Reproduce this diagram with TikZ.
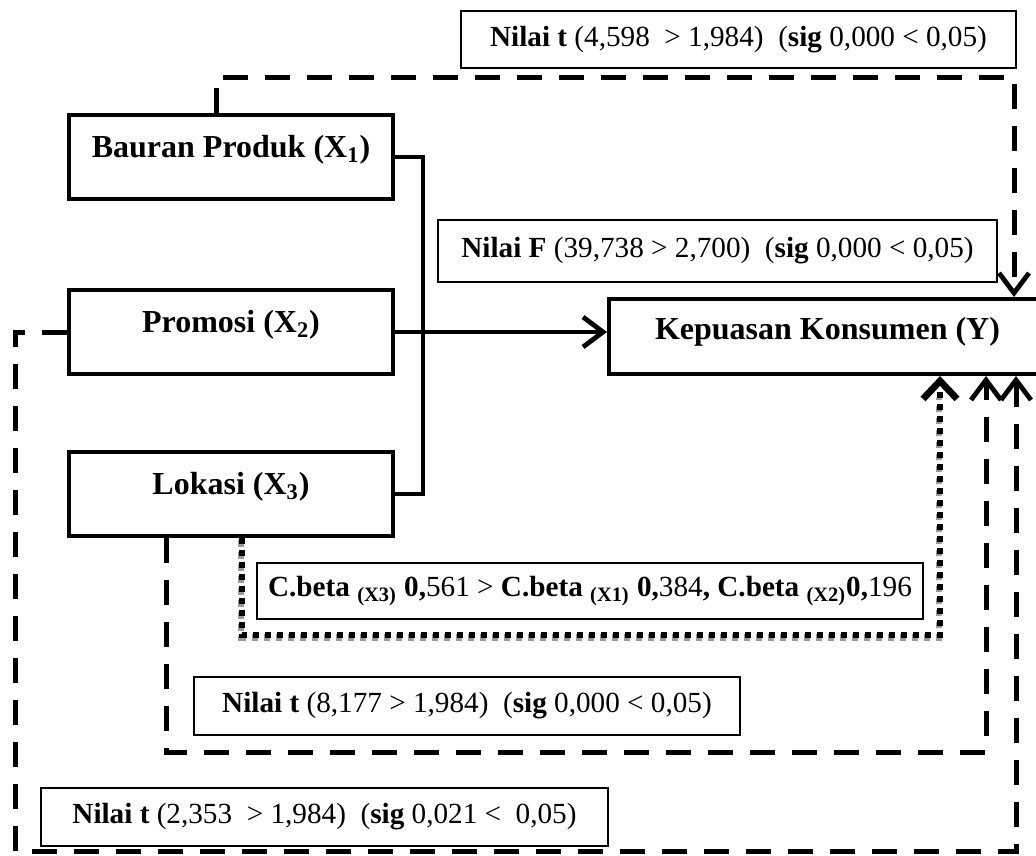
\documentclass[tikz,border=0pt]{standalone}
\usepackage{fontspec}
\setmainfont{Liberation Serif}
\usetikzlibrary{arrows.meta}
\definecolor{cshade}{HTML}{9a9a9a}

\begin{document}
\begin{tikzpicture}[x=0.5pt, y=-0.5pt,
    var/.style={draw, line width=2pt, minimum width=162pt, minimum height=42pt,
      text height=12pt, text depth=12pt, font=\fontsize{16}{19}\selectfont\bfseries},
    stat/.style={draw, line width=.75pt, font=\fontsize{14.6}{17}\selectfont},
    link/.style={line width=2pt},
    tline/.style={line width=2.5pt, dash pattern=on 12.5pt off 8.5pt},
    dline/.style={line width=3.2pt, dash pattern=on 3.2pt off 2.8pt},
    tip/.style={-{Straight Barb[length=10pt, width=15pt, line width=2.4pt]}},
    bigtip/.style={-{Straight Barb[length=9pt, width=17pt, line width=3.4pt]}}]
  \clip (0,0) rectangle (1036,855);
  % variables
  \node[var] (x1) at (231,157.5) {Bauran Produk (X\textsubscript{1})};
  \node[var] (x2) at (231,332) {Promosi (X\textsubscript{2})};
  \node[var] (x3) at (231,494) {Lokasi (X\textsubscript{3})};
  \node[var, minimum width=218.5pt, minimum height=37.5pt, text depth=9pt] (y) at (827.5,336.5) {Kepuasan Konsumen (Y)};
  % test results
  \node[stat, minimum width=277.5pt, minimum height=28.5pt] (tx1) at (738.5,39.5) {\textbf{Nilai t} (4,598~ > 1,984)~ (\textbf{sig} 0,000 < 0,05)};
  \node[stat, minimum width=279.5pt, minimum height=31pt] (fval) at (717.5,251) {\textbf{Nilai F} (39,738 > 2,700)~ (\textbf{sig} 0,000 < 0,05)};
  \node[stat, minimum width=333pt, minimum height=28pt] (beta) at (590,591) {\textbf{C.beta \textsubscript{(X3)} 0,}561 > \textbf{C.beta \textsubscript{(X1)} 0,}384\textbf{, C.beta \textsubscript{(X2)}0,}196};
  \node[stat, minimum width=273pt, minimum height=29pt] (tx3) at (467,706) {\textbf{Nilai t} (8,177 > 1,984)~ (\textbf{sig} 0,000 < 0,05)};
  \node[stat, minimum width=283.5pt, minimum height=29pt] (tx2) at (324.5,817) {\textbf{Nilai t} (2,353~ > 1,984)~ (\textbf{sig} 0,021 <~ 0,05)};
  % corners of the paths
  \coordinate (bus) at (423,332);
  \coordinate (tr1) at (1014,78);
  \coordinate (lo) at (15,851);
  \coordinate (ro) at (1016,851);
  \coordinate (rm) at (986,752);
  \coordinate (rd) at (940,635);
  % simultaneous
  \draw[link] (x1.east) -| (bus) |- (x3.east);
  \draw[link, tip] (x2.east) -- (x2.east -| y.west);
  % partial
  \draw[tline, tip] ([xshift=-7.5pt]x1.north) |- (tr1) -- (tr1 |- y.north);
  \draw[tline, tip] (x2.west) -| (lo) -- (ro) -- (ro |- y.south);
  \draw[tline, tip] ([xshift=-32.5pt]x3.south) |- (rm) -- (rm |- y.south);
  % dominant
  \draw[dline, cshade, shorten >=10pt, transform canvas={xshift=-.6pt, yshift=-1.2pt}] ([xshift=5.5pt]x3.south) |- (rd) -- (rd |- y.south);
  \draw[dline, bigtip] ([xshift=5.5pt]x3.south) |- (rd) -- (rd |- y.south);
\end{tikzpicture}
\end{document}
